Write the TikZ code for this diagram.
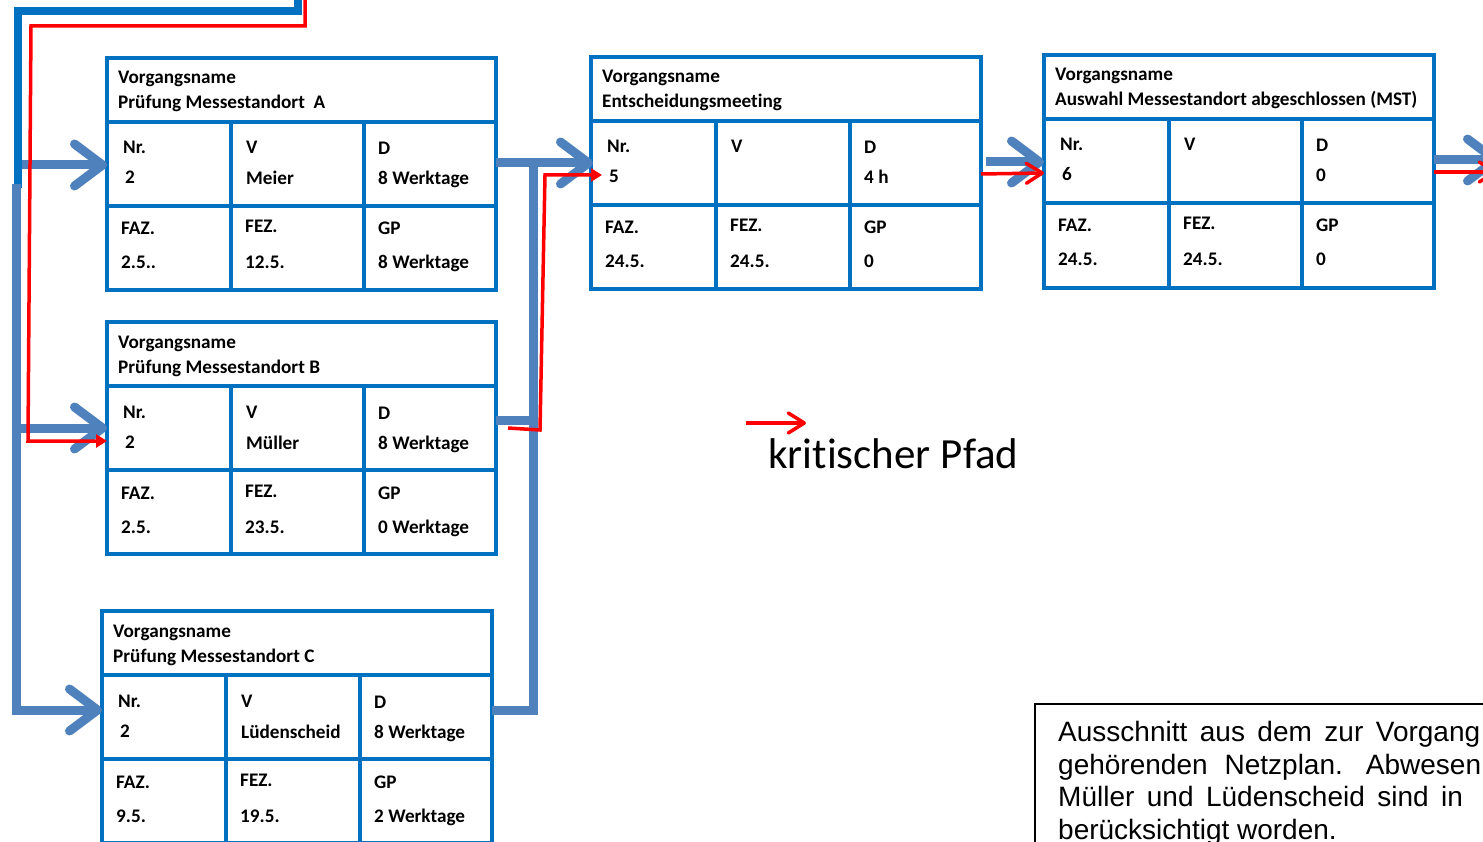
\documentclass[tikz,border=0pt]{standalone}
\usepackage{fontspec}
\setmainfont{Carlito}[Ligatures=NoCommon]
\newfontfamily\arialfont{Liberation Sans}
\usetikzlibrary{arrows.meta,calc}
\definecolor{boxblue}{HTML}{0070C0}
\definecolor{steel}{HTML}{4F81BD}
\definecolor{critred}{HTML}{FF0000}
\tikzset{
  npbox/.style={draw=boxblue, line width=4pt, inner sep=0pt, outer sep=0pt, anchor=north west},
  npline/.style={draw=boxblue, line width=4pt},
  npt/.style={anchor=base west, inner sep=0pt, font=\fontsize{19.2}{21}\selectfont\bfseries},
  conn/.style={draw=steel, line width=9pt},
  darkconn/.style={draw=boxblue, line width=8.5pt},
  bluehead/.style={-{Straight Barb[length=28pt,width=42pt,round]}},
  redc/.style={draw=critred, line width=3.5pt},
  redtri/.style={-{Triangle[length=11pt,width=13pt]}},
  redbarb/.style={-{Straight Barb[length=16pt,width=20pt,round]}},
  notetext/.style={anchor=base west, inner sep=0pt, font=\arialfont\fontsize{28}{33}\selectfont},
}
\newcommand\NPbox[7]{%
  \node[npbox, minimum width={(#4-#2)*1pt}, minimum height={(#5-#3)*1pt}] (#1) at (#2,#3) {};
  \draw[npline] (#2,#3+64) -- (#4,#3+64);
  \draw[npline] (#2,#3+148) -- (#4,#3+148);
  \draw[npline] (#6,#3+64) -- (#6,#5);
  \draw[npline] (#7,#3+64) -- (#7,#5);
  \def\npL{#2}\def\npT{#3}\def\npA{#6}\def\npB{#7}}
\newcommand\NPtext[8]{%
  \node[npt] (#1-vn) at (\npL+11,\npT+26) {Vorgangsname};
  \node[npt] (#1-title) at (\npL+11,\npT+51) {#2};
  \node[npt] (#1-nrl) at (\npL+16,\npT+96) {Nr.};
  \node[npt] (#1-nr) at (\npL+18,\npT+126) {#3};
  \node[npt] (#1-vl) at (\npA+15,\npT+96) {V};
  \node[npt] (#1-v) at (\npA+15,\npT+127) {#4};
  \node[npt] (#1-dl) at (\npB+14,\npT+97) {D};
  \node[npt] (#1-d) at (\npB+14,\npT+127) {#5};
  \node[npt] (#1-fazl) at (\npL+14,\npT+177) {FAZ.};
  \node[npt] (#1-faz) at (\npL+14,\npT+211) {#6};
  \node[npt] (#1-fezl) at (\npA+14,\npT+175) {FEZ.};
  \node[npt] (#1-fez) at (\npA+14,\npT+211) {#7};
  \node[npt] (#1-gpl) at (\npB+14,\npT+177) {GP};
  \node[npt] (#1-gp) at (\npB+14,\npT+211) {#8};}
\begin{document}
\begin{tikzpicture}[x=1pt,y=-1pt]
\useasboundingbox (0,0) rectangle (1483,842);
\fill[white] (0,0) rectangle (1483,842);

\NPbox{A}{107}{58}{496}{290}{231}{364}
\NPtext{A}{Prüfung Messestandort~ A}{2}{Meier}{8 Werktage}{2.5..}{12.5.}{8 Werktage}
\NPbox{B}{107}{322}{496}{554}{231}{364}
\NPtext{B}{Prüfung Messestandort B}{2}{Müller}{8 Werktage}{2.5.}{23.5.}{0 Werktage}
\NPbox{C}{102}{611}{492}{843}{226}{360}
\NPtext{C}{Prüfung Messestandort C}{2}{Lüdenscheid}{8 Werktage}{9.5.}{19.5.}{2 Werktage}
\NPbox{D}{591}{57}{981}{289}{716}{850}
\NPtext{D}{Entscheidungsmeeting}{5}{}{4 h}{24.5.}{24.5.}{0}
\NPbox{E}{1044}{55}{1434}{288}{1169}{1302}
\NPtext{E}{Auswahl Messestandort abgeschlossen (MST)}{6}{}{0}{24.5.}{24.5.}{0}

% free ends
\coordinate (topB) at (298,-10);
\coordinate (topR) at (305,-10);
\coordinate (trunk) at (16,184);
\coordinate (inA) at (22,165);
\coordinate (inB) at (16,428);
\coordinate (outB) at (1500,160);
\coordinate (outR) at (1497,172);

% incoming connectors on the left
\draw[darkconn] (topB) |- (18,11) -- (18,188);
\draw[conn,bluehead] (trunk) |- ($(C.north west)+(0,99)$);
\draw[conn,bluehead] (inA) -- ($(A.north west)+(0,107)$);
\draw[conn,bluehead] (inB) -- ($(B.north west)+(0,106)$);
\draw[redc,redtri] (topR) |- (31,26) -- (28,441) -- ($(B.north west)+(0,119)$);

% A, B, C -> D
\draw[conn] ($(C.north east)+(0,99)$) -| ($(A.north east)+(37,101)$);
\draw[conn] ($(B.north east)+(0,98)$) -- ++(37,0);
\draw[conn,bluehead] ($(A.north east)+(0,105)$) -- ($(D.north west)+(2,106)$);
\draw[redc,redtri] ($(B.north east)+(12,106)$) -- ++(32,2) -- (545,175) -- ($(D.north west)+(11,118)$);

% D -> E -> out
\draw[conn,bluehead] ($(D.north east)+(5,105)$) -- ($(E.north west)+(0,107)$);
\draw[redc,redbarb] ($(D.north east)+(0,117)$) -- ($(E.north west)+(0,118)$);
\draw[conn,bluehead] ($(E.north east)+(0,105)$) -- (outB);
\draw[redc,redbarb] ($(E.north east)+(0,117)$) -- (outR);

% legend
\coordinate (lgS) at (746,423);
\coordinate (lgE) at (806,423);
\draw[redc,redbarb] (lgS) -- (lgE);
\node[anchor=base west, inner sep=0pt, font=\fontsize{43}{47}\selectfont] (legend) at (768,468) {kritischer Pfad};

% note box
\node[draw=black, line width=1.5pt, anchor=north west, minimum width=500pt, minimum height=200pt, inner sep=0pt, outer sep=0pt] (note) at (1035,704) {};
\node[notetext] (n1) at (1058,741.5) {\spaceskip=12.5pt\relax Ausschnitt aus dem zur Vorgang};
\node[notetext] (n2) at (1058,774) {gehörenden\hspace{17pt}Netzplan.\hspace{23pt}Abwesen};
\node[notetext] (n3) at (1058,806.5) {\spaceskip=12.5pt\relax Müller und Lüdenscheid sind in};
\node[notetext] (n4) at (1058,839) {berücksichtigt worden.};
\end{tikzpicture}
\end{document}
